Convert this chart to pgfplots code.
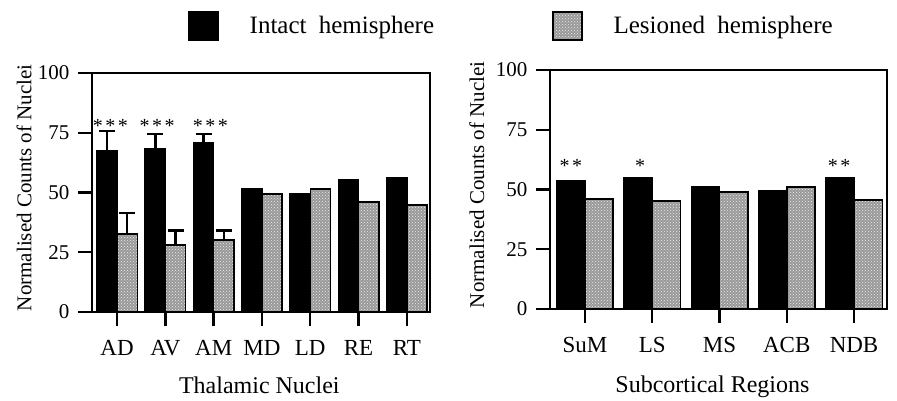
\documentclass[border=0pt]{standalone}
\usepackage{fontspec}
\setmainfont{Liberation Serif}
\usepackage{pgfplots}
\pgfplotsset{compat=1.18}
\usetikzlibrary{patterns}

\pgfplotstableread{
x  i     l
0  67.4  32.6
1  68.2  28.0
2  70.7  30.1
3  51.5  49.4
4  49.4  51.5
5  55.2  46.0
6  56.1  44.8
}\thal

\pgfplotstableread{
x  i     l
0  53.6  46.0
1  54.8  45.2
2  51.0  49.0
3  49.4  51.0
4  54.8  45.6
}\subc

\tikzset{mystar/.style={anchor=north, inner sep=0pt, font=\fontsize{20}{20}\selectfont}}

\pgfplotsset{
  mybase/.style={
    scale only axis, width=338pt, height=239pt,
    ymin=0, ymax=100, ytick={0,25,50,75,100},
    xtick align=outside, ytick align=outside, major tick length=14pt,
    xtick pos=bottom, ytick pos=left,
    axis line style={line width=2.2pt},
    xtick style={line width=2.4pt, draw=black},
    ytick style={line width=2.2pt, draw=black},
    clip=false,
    ybar, bar width=0.42,
    /pgf/number format/assume math mode=true,
    yticklabel style={font=\fontsize{21}{25}\selectfont, xshift=-5pt},
    xticklabel style={font=\fontsize{23}{27}\selectfont, yshift=-11pt},
    ylabel style={font=\fontsize{21}{25}\selectfont, anchor=center},
    xlabel style={font=\fontsize{24}{28}\selectfont, anchor=center},
    ylabel={Normalised Counts of Nuclei},
  },
  intact/.style={fill=black, draw=black, line width=1.5pt, bar shift=-0.21},
  lesion/.style={fill=black!40, draw=black, line width=1.5pt, bar shift=0.21,
     postaction={pattern=crosshatch dots, pattern color=white!85!gray}},
  errb/.style={draw=none, fill=none, forget plot, bar shift=#1,
     error bars/.cd, y dir=plus, y explicit,
     error bar style={line width=2.5pt, black},
     error mark options={rotate=90, line width=2.5pt, black, mark size=8pt}},
}

\begin{document}
\begin{tikzpicture}[x=1pt,y=1pt]
\useasboundingbox (0,0) rectangle (897,401);

\begin{axis}[mybase, at={(92pt,89pt)}, anchor=south west,
  xmin=-0.52, xmax=6.48,
  xtick={0,1,2,3,4,5,6}, xticklabels={AD,AV,AM,MD,LD,RE,RT},
  xlabel={Thalamic Nuclei},
  xlabel style={at={(axis description cs:0.495,-0.305)}},
  ylabel style={at={(axis description cs:-0.201,0.52)}},
  legend columns=2,
  legend style={at={(rel axis cs:0.284,1.197)}, anchor=west, draw=none, fill=none,
     font=\fontsize{25}{28}\selectfont, inner sep=0pt,
     nodes={inner sep=0pt},
     /tikz/every odd column/.append style={column sep=31pt},
     /tikz/every even column/.append style={column sep=118pt}},
  legend image code/.code={\draw[#1] (0pt,-14pt) rectangle (29pt,14pt);},
]
\addplot[intact] table[x=x, y=i] {\thal};
\addplot[lesion] table[x=x, y=l] {\thal};
\addplot[errb=-0.21] coordinates {(0,67.4) +- (0,8.3) (1,68.2) +- (0,6.3) (2,70.7) +- (0,3.8)};
\addplot[errb=0.21] coordinates {(0,32.6) +- (0,8.8) (1,28.0) +- (0,6.0) (2,30.1) +- (0,3.9)};
\legend{Intact\hspace{6pt} hemisphere, Lesioned\hspace{6pt} hemisphere}
\node[mystar] at (axis cs:-0.14,80.5) {*\hspace{2.5pt}*\hspace{2.5pt}*};
\node[mystar] at (axis cs:0.83,80.5) {*\hspace{2.5pt}*\hspace{2.5pt}*};
\node[mystar] at (axis cs:1.93,80.5) {*\hspace{2.5pt}*\hspace{2.5pt}*};
\end{axis}

\begin{axis}[mybase, at={(550pt,92pt)}, anchor=south west,
  width=337pt,
  xmin=-0.52, xmax=4.49,
  xtick={0,1,2,3,4}, xticklabels={SuM,LS,MS,ACB,NDB},
  xlabel={Subcortical Regions},
  xlabel style={at={(axis description cs:0.482,-0.326)}},
  ylabel style={at={(axis description cs:-0.217,0.52)}},
]
\addplot[intact] table[x=x, y=i] {\subc};
\addplot[lesion] table[x=x, y=l] {\subc};
\node[mystar] at (axis cs:-0.21,62.5) {*\hspace{2.5pt}*};
\node[mystar] at (axis cs:0.82,62.5) {*};
\node[mystar] at (axis cs:3.78,62.5) {*\hspace{2.5pt}*};
\end{axis}
\end{tikzpicture}
\end{document}
